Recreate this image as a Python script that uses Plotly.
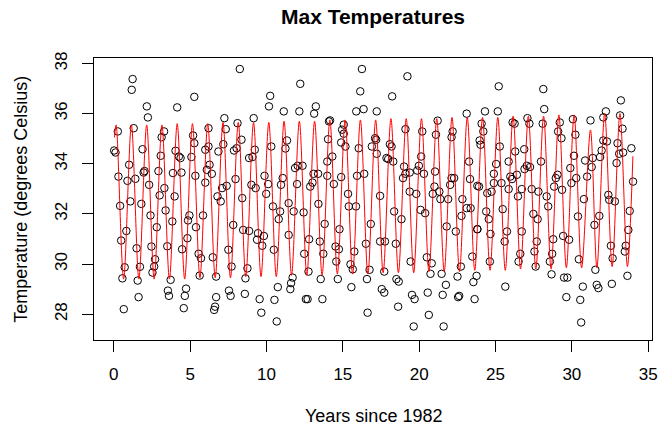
import plotly.graph_objects as go

obs_years_a = [1.23, 1.17, 5.27, 2.16, 4.15, 2.23, 1.30, 0.26, 3.29, 5.19, 3.13, 5.27, 1.88, 0.02, 0.11,
               4.04, 3.07, 4.26, 4.37, 5.08, 1.00, 2.01, 1.95, 2.92, 4.43, 3.87, 5.34, 0.30, 1.41, 0.89,
               2.31, 3.31, 3.00, 3.98, 1.08, 1.80, 0.41, 3.39, 2.40, 4.95, 4.86, 3.83, 2.81, 5.38, 0.82,
               4.82, 0.48, 3.50, 2.46, 1.49, 4.47, 2.70, 2.64, 0.71, 1.71, 2.53, 0.56, 3.72, 1.56, 4.73,
               3.54, 3.61, 4.65, 1.62, 4.58, 0.65]
obs_temps_a = [37.38, 36.95, 36.67, 36.29, 36.25, 35.85, 35.42, 35.29, 35.29, 35.13, 35.06, 34.82, 34.58, 34.53, 34.45,
               34.52, 34.32, 34.29, 34.23, 34.27, 33.96, 33.71, 33.65, 33.71, 33.65, 33.63, 33.52, 33.49, 33.40, 33.32,
               33.16, 33.03, 32.74, 32.70, 32.50, 32.40, 32.32, 32.14, 31.94, 31.94, 31.74, 31.70, 31.47, 31.47, 31.32,
               31.03, 30.94, 30.71, 30.70, 30.63, 30.59, 30.19, 29.90, 29.87, 29.89, 29.66, 29.43, 29.37, 29.34, 29.02,
               28.94, 28.73, 28.73, 28.68, 28.24, 28.20]

obs_years_b = [8.25, 10.24, 10.16, 11.13, 7.24, 9.16, 8.10, 6.20, 7.33, 8.36, 7.17, 6.20, 5.99, 8.04, 7.87,
               11.24, 10.31, 9.23, 6.85, 11.34, 8.86, 9.08, 6.27, 6.09, 6.42, 9.87, 7.97, 11.06, 5.99, 10.11,
               10.95, 9.01, 7.39, 7.09, 9.29, 9.98, 6.79, 8.41, 7.00, 11.45, 10.42, 10.89, 5.84, 10.80, 7.82,
               8.47, 8.86, 9.44, 11.45, 9.83, 9.38, 9.72, 7.50, 10.48, 5.55, 5.71, 6.48, 7.71, 8.75, 5.62,
               6.70, 8.62, 10.74, 7.54, 7.65, 9.55, 10.52, 8.58, 6.70, 6.63, 6.57, 9.66, 10.67]
obs_temps_b = [37.78, 36.71, 36.29, 36.09, 35.82, 35.82, 35.62, 35.42, 35.38, 34.96, 34.78, 34.69, 34.56, 34.62, 34.53,
               34.61, 34.69, 34.56, 34.49, 34.93, 34.23, 34.27, 33.96, 33.76, 33.60, 33.52, 33.39, 33.43, 33.25, 33.19,
               33.16, 33.16, 33.12, 33.03, 33.03, 32.80, 32.70, 32.63, 32.50, 32.43, 32.30, 32.10, 31.94, 31.79, 31.56,
               31.36, 31.32, 31.23, 31.16, 31.12, 30.97, 30.73, 30.57, 30.57, 30.41, 30.23, 30.27, 29.90, 29.83, 29.54,
               29.50, 29.43, 29.08, 28.94, 28.73, 28.60, 28.57, 28.81, 28.68, 28.30, 28.17, 28.06, 27.71]

obs_years_c = [16.25, 12.21, 16.14, 13.23, 12.15, 13.12, 15.88, 16.36, 17.22, 14.16, 14.09, 15.06, 14.95, 15.06, 14.03,
               17.18, 17.11, 14.89, 15.17, 16.04, 16.90, 17.22, 14.31, 13.98, 12.04, 12.36, 11.87, 13.08, 13.38, 16.40,
               13.98, 15.93, 14.89, 13.01, 12.00, 14.41, 12.86, 15.34, 17.44, 13.40, 15.39, 15.86, 11.78, 12.43, 13.81,
               16.83, 14.78, 12.79, 13.49, 17.44, 16.51, 14.52, 14.74, 15.75, 12.47, 13.72, 14.57, 15.50, 15.65, 16.75,
               12.75, 11.71, 13.55, 14.67, 16.58, 11.61, 15.56, 11.56, 17.55, 12.58, 12.69, 13.66, 16.62]
obs_temps_c = [37.78, 37.19, 36.89, 36.29, 36.09, 36.00, 36.09, 36.18, 36.09, 35.73, 35.69, 35.56, 35.36, 35.20, 34.98,
               34.96, 35.02, 34.85, 34.69, 34.62, 34.69, 34.40, 34.29, 34.09, 33.92, 33.92, 33.83, 33.60, 33.60, 33.60,
               33.52, 33.52, 33.47, 33.25, 33.19, 33.19, 33.09, 32.80, 32.72, 32.40, 32.30, 32.30, 32.10, 32.06, 31.60,
               31.60, 31.39, 30.99, 30.90, 30.90, 30.81, 30.70, 30.59, 30.50, 30.41, 30.41, 30.10, 29.99, 29.79, 29.77,
               29.70, 29.46, 29.40, 29.40, 29.40, 29.24, 29.08, 29.00, 29.00, 28.60, 28.60, 28.60, 28.06]

obs_years_d = [19.23, 18.23, 23.11, 21.21, 19.10, 20.20, 22.19, 21.10, 22.12, 18.08, 18.19, 20.13, 17.86, 17.97, 18.30,
               23.27, 19.98, 19.01, 19.87, 21.04, 19.38, 19.10, 20.31, 18.94, 22.12, 22.29, 23.33, 22.03, 23.81, 21.00,
               19.38, 21.32, 19.81, 20.89, 21.39, 21.90, 22.83, 23.37, 23.11, 20.09, 18.36, 20.39, 22.77, 18.84, 21.80,
               23.81, 22.40, 17.76, 18.47, 23.48, 20.50, 19.44, 20.82, 22.73, 17.71, 20.74, 21.47, 23.76, 22.51, 18.51,
               18.66, 23.55, 21.75, 17.71, 20.56, 19.53, 19.70, 21.54, 22.62, 22.55, 23.63, 18.62, 20.63, 19.64, 21.60]
obs_temps_d = [37.49, 36.69, 36.00, 35.72, 35.38, 35.29, 35.29, 35.16, 35.06, 34.78, 34.69, 34.29, 34.23, 34.19, 34.09,
               34.09, 33.92, 33.89, 33.73, 33.69, 33.65, 33.60, 33.60, 33.43, 33.43, 33.43, 33.39, 33.16, 33.12, 33.09,
               32.89, 32.89, 32.80, 32.80, 32.59, 32.59, 32.59, 32.23, 32.23, 32.16, 32.10, 32.03, 31.92, 31.79, 31.50,
               31.39, 31.30, 30.90, 30.81, 30.30, 30.27, 30.10, 30.03, 29.90, 29.70, 29.61, 29.61, 29.53, 29.50, 29.40,
               29.30, 29.28, 29.17, 28.86, 28.86, 28.77, 28.60, 28.77, 28.73, 28.68, 28.60, 28.30, 27.97, 27.51, 27.51]

obs_years_e = [25.21, 28.13, 28.19, 24.31, 25.15, 27.09, 26.12, 26.25, 24.09, 27.22, 28.09, 29.21, 24.20, 29.10, 29.32,
               23.96, 24.02, 25.28, 26.88, 26.29, 25.86, 27.98, 25.04, 27.05, 27.26, 26.90, 24.89, 26.40, 29.06, 25.97,
               28.95, 26.08, 24.89, 25.39, 28.84, 23.92, 25.86, 26.72, 27.37, 29.36, 27.81, 24.46, 24.74, 28.35, 26.47,
               28.45, 25.47, 24.39, 27.48, 24.56, 27.76, 23.81, 26.72, 24.67, 25.75, 29.43, 28.78, 25.60, 27.70, 27.55,
               26.62, 28.71, 24.63, 26.51, 28.56, 27.63, 28.67, 29.49, 29.71, 25.64, 29.64]
obs_temps_e = [37.09, 36.98, 36.18, 36.09, 36.09, 35.82, 35.65, 35.60, 35.60, 35.60, 35.60, 35.65, 35.29, 35.29, 35.02,
               34.93, 34.76, 34.69, 34.58, 34.49, 34.09, 34.09, 33.99, 33.92, 33.87, 33.79, 33.60, 33.56, 33.56, 33.49,
               33.43, 33.39, 33.23, 33.23, 33.09, 33.09, 32.99, 32.99, 32.99, 32.96, 32.89, 32.83, 32.89, 32.70, 32.70,
               32.30, 32.19, 32.10, 32.00, 31.79, 31.79, 31.39, 31.30, 31.20, 31.30, 31.12, 30.99, 30.90, 30.90, 30.50,
               30.41, 30.41, 30.10, 30.10, 30.10, 29.90, 29.59, 29.46, 29.46, 29.10, 28.68]

obs_years_f = [33.21, 32.23, 33.16, 32.06, 30.07, 31.22, 33.32, 30.23, 32.06, 32.30, 32.99, 33.90, 31.95, 33.36, 33.10,
               30.14, 31.37, 31.85, 30.87, 32.93, 31.30, 29.90, 31.00, 30.29, 34.01, 29.97, 32.39, 32.45, 32.82, 30.79,
               33.79, 31.80, 30.40, 31.48, 33.70, 29.82, 32.56, 33.53, 33.47, 32.67, 30.46, 31.54, 33.64, 32.62, 30.72,
               31.63, 31.74, 30.55, 30.61]
obs_temps_f = [36.53, 36.09, 35.93, 35.85, 35.78, 35.73, 35.40, 35.16, 34.93, 34.89, 34.82, 34.62, 34.53, 34.45, 34.40,
               34.32, 34.23, 34.27, 34.13, 34.03, 33.87, 33.83, 33.49, 33.43, 33.29, 33.23, 32.76, 32.56, 32.50, 32.59,
               32.12, 31.92, 31.90, 31.56, 31.36, 30.97, 30.73, 30.73, 30.50, 30.23, 30.19, 29.77, 29.53, 29.21, 29.10,
               29.17, 29.04, 28.57, 27.67]

# ---- fitted seasonal curve (turning points) ----
fit_years = [0.04,
             0.15, 0.64, 1.15, 1.64, 2.15, 2.64, 3.15, 3.64, 4.15, 4.64, 5.15, 5.64,
             6.15, 6.64, 7.15, 7.64, 8.15, 8.64, 9.15, 9.64, 10.15, 10.64, 11.15, 11.64,
             12.15, 12.64, 13.15, 13.64, 14.15, 14.64, 15.15, 15.64, 16.15, 16.64, 17.15, 17.64,
             18.15, 18.64, 19.15, 19.64, 20.15, 20.64, 21.15, 21.64, 22.15, 22.64, 23.15, 23.64,
             24.15, 24.64, 25.15, 25.64, 26.15, 26.64, 27.15, 27.64, 28.15, 28.64, 29.15, 29.64,
             30.15, 30.64, 31.22, 31.64, 32.15, 32.64, 33.15, 33.64, 34.0]
fit_temps = [35.05,
             35.55, 29.40, 35.55, 29.40, 35.55, 29.40, 35.55, 29.40, 35.60, 29.40, 35.60, 29.45,
             35.60, 29.45, 35.65, 29.45, 35.65, 29.50, 35.65, 29.50, 35.65, 29.50, 35.70, 29.55,
             35.70, 29.55, 35.70, 29.55, 35.75, 29.60, 35.75, 29.60, 35.75, 29.60, 35.75, 29.65,
             35.80, 29.65, 35.80, 29.65, 35.80, 29.70, 35.80, 29.70, 35.85, 29.70, 35.85, 29.75,
             35.85, 29.75, 35.85, 29.75, 35.90, 29.80, 35.90, 29.80, 35.90, 29.80, 35.95, 29.85,
             35.95, 29.85, 35.35, 29.85, 36.00, 29.90, 36.00, 29.90, 34.30]

x_ticks = [0, 5, 10, 15, 20, 25, 30, 35]
y_ticks = [28, 30, 32, 34, 36, 38]

obs_years = obs_years_a + obs_years_b + obs_years_c + obs_years_d + obs_years_e + obs_years_f
obs_temps = obs_temps_a + obs_temps_b + obs_temps_c + obs_temps_d + obs_temps_e + obs_temps_f

FONT = "Liberation Sans, Arial, Helvetica, sans-serif"

fig = go.Figure()
fig.add_trace(go.Scatter(
    x=obs_years, y=obs_temps, mode="markers",
    marker=dict(symbol="circle-open", size=7.5, color="black", line=dict(width=1, color="black")),
    showlegend=False, hoverinfo="skip"))
fig.add_trace(go.Scatter(
    x=fit_years, y=fit_temps, mode="lines",
    line=dict(color="red", width=1, shape="spline", smoothing=0.9),
    showlegend=False, hoverinfo="skip"))

axis_common = dict(
    showgrid=False, zeroline=False, showline=True, linecolor="black", linewidth=1, mirror=True,
    ticks="outside", ticklen=11, tickwidth=1, tickcolor="black",
    tickfont=dict(family=FONT, size=17, color="black"))

fig.update_xaxes(range=[-1.3, 35.25], tickvals=x_ticks, ticktext=[str(v) for v in x_ticks],
                 ticklabelstandoff=8, **axis_common)
fig.update_yaxes(range=[26.97, 38.22], tickvals=y_ticks, ticktext=[str(v) for v in y_ticks],
                 tickangle=-90, ticklabelstandoff=8, **axis_common)

fig.update_layout(
    width=665, height=429,
    margin=dict(l=94, r=7, t=58, b=89),
    paper_bgcolor="white", plot_bgcolor="white",
    font=dict(family=FONT, color="black"),
    title=dict(text="<b>Max Temperatures</b>", x=0.5, xref="paper", xanchor="center",
               y=1 - 17 / 429, yref="container", yanchor="middle",
               font=dict(family=FONT, size=21, color="black")),
    annotations=[
        dict(text="Years since 1982", xref="paper", yref="paper", x=0.5, y=(340 - 416) / 282,
             xanchor="center", yanchor="middle", showarrow=False,
             font=dict(family=FONT, size=18, color="black")),
        dict(text="Temperature (degrees Celsius)", xref="paper", yref="paper",
             x=(20 - 94) / 564, y=0.5, textangle=-90, xanchor="center", yanchor="middle",
             showarrow=False, font=dict(family=FONT, size=18, color="black")),
    ],
)

fig.write_html("out.html")
